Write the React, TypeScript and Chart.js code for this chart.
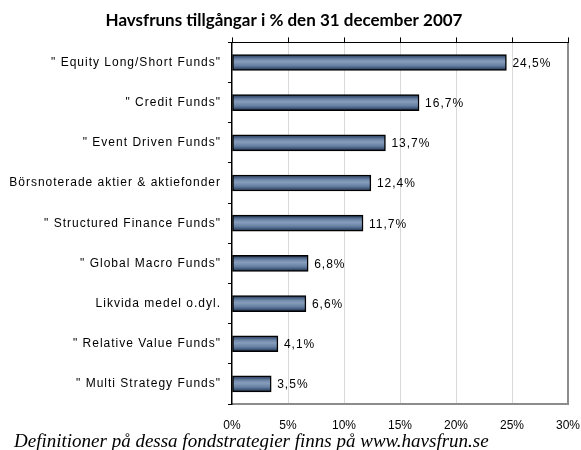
import React, { useEffect, useRef } from "react";
import { Chart, registerables } from "chart.js";

Chart.register(...registerables);

const categories = [
  '" Equity Long/Short Funds"',
  '" Credit Funds"',
  '" Event Driven Funds"',
  "Börsnoterade aktier & aktiefonder",
  '" Structured Finance Funds"',
  '" Global Macro Funds"',
  "Likvida medel o.dyl.",
  '" Relative Value Funds"',
  '" Multi Strategy Funds"',
];
const values = [24.5, 16.7, 13.7, 12.4, 11.7, 6.8, 6.6, 4.1, 3.5];
const xMin = 0;
const xMax = 30;
const xStep = 5;
const titleText = "Havsfruns tillgångar i % den 31 december 2007";
const footnoteText = "Definitioner på dessa fondstrategier finns på www.havsfrun.se";

const fmt = (v: number) => v.toFixed(1).replace(".", ",") + "%";

export default function App() {
  const ref = useRef<HTMLCanvasElement | null>(null);
  useEffect(() => {
    document.body.style.margin = "0";
    const canvas = ref.current!;
    const labelPlugin = {
      id: "valueLabels",
      afterDatasetsDraw(chart: any) {
        const ctx = chart.ctx;
        const meta = chart.getDatasetMeta(0);
        ctx.save();
        ctx.font = "12px 'Liberation Sans', Arial, sans-serif";
        (ctx as any).letterSpacing = "1px";
        ctx.fillStyle = "#000";
        ctx.textBaseline = "middle";
        ctx.textAlign = "left";
        meta.data.forEach((el: any, i: number) => {
          ctx.fillText(fmt(values[i]), el.x + 6, el.y + 1);
        });
        ctx.restore();
      },
    };
    const footPlugin = {
      id: "footnote",
      afterDraw(chart: any) {
        const ctx = chart.ctx;
        ctx.save();
        ctx.font = "italic 19px 'Liberation Serif', 'Times New Roman', serif";
        ctx.fillStyle = "#000";
        ctx.textBaseline = "alphabetic";
        ctx.textAlign = "left";
        ctx.fillText(footnoteText, 14, 447);
        ctx.restore();
      },
    };
    const chart = new Chart(canvas, {
      type: "bar",
      data: {
        labels: categories,
        datasets: [
          {
            data: values,
            barThickness: 16,
            borderColor: "#000",
            borderWidth: 1.5,
            borderSkipped: false,
            backgroundColor: (c: any) => {
              const chartObj = c.chart;
              const ys = chartObj.scales && chartObj.scales.y;
              if (!ys || c.dataIndex === undefined) return "#6f88a8";
              const cy = ys.getPixelForValue(c.dataIndex);
              if (!isFinite(cy)) return "#6f88a8";
              const g = chartObj.ctx.createLinearGradient(0, cy - 8, 0, cy + 8);
              g.addColorStop(0, "#1f3456");
              g.addColorStop(0.3, "#7089ab");
              g.addColorStop(0.45, "#879dbb");
              g.addColorStop(0.7, "#6580a3");
              g.addColorStop(1, "#1c2e4e");
              return g;
            },
          },
        ],
      },
      options: {
        indexAxis: "y",
        responsive: false,
        animation: false,
        layout: { padding: { left: 0, right: 13, top: 0, bottom: 0 } },
        plugins: {
          legend: { display: false },
          tooltip: { enabled: false },
          title: {
            display: true,
            text: titleText,
            color: "#000",
            font: { family: "Lato, 'Open Sans', sans-serif", size: 17, weight: "bold" },
            padding: { top: 10, bottom: 7 },
          },
        },
        scales: {
          x: {
            type: "linear",
            position: "bottom",
            min: xMin,
            max: xMax,
            afterFit: (s: any) => {
              s.height = 46;
              s.paddingLeft = 0;
              s.paddingRight = 0;
            },
            ticks: {
              stepSize: xStep,
              callback: (v: any) => v + "%",
              color: "#000",
              font: { family: "'Liberation Sans', Arial, sans-serif", size: 12 },
              padding: 14,
              maxRotation: 0,
            },
            grid: {
              drawTicks: false,
              color: (c: any) =>
                c.tick && c.tick.value === xMax ? "#8c8c8c" : c.tick && c.tick.value === xMin ? "rgba(0,0,0,0)" : "#d9d9d9",
              lineWidth: (c: any) => (c.tick && c.tick.value === xMax ? 2 : 1),
            },
            border: { color: "#8c8c8c", width: 2 },
          },
          x2: {
            type: "linear",
            position: "top",
            min: xMin,
            max: xMax,
            afterFit: (s: any) => {
              s.height = 5;
              s.paddingLeft = 0;
              s.paddingRight = 0;
            },
            ticks: { display: false, stepSize: xStep },
            grid: { drawOnChartArea: false, drawTicks: true, tickLength: 5, color: "#000", lineWidth: 1 },
            border: { color: "#000", width: 1 },
          },
          y: {
            type: "category",
            afterFit: (s: any) => {
              s.width = 232;
              if (!s._lsPatched) {
                const orig = s.drawLabels;
                s.drawLabels = function (area: any) {
                  const ctx = this.ctx;
                  ctx.save();
                  ctx.letterSpacing = "1px";
                  orig.call(this, area);
                  ctx.restore();
                };
                s._lsPatched = true;
              }
            },
            ticks: {
              color: "#000",
              font: { family: "'Liberation Sans', Arial, sans-serif", size: 12 },
              padding: 7,
            },
            grid: { drawOnChartArea: false, offset: true, tickLength: 4, color: "#000", lineWidth: 1 },
            border: { color: "#000", width: 1.5 },
          },
        },
      },
      plugins: [labelPlugin, footPlugin],
    } as any);
    return () => chart.destroy();
  }, []);
  return (
    <div style={{ position: "absolute", left: 0, top: 0, width: 581, height: 450 }}>
      <canvas ref={ref} width={581} height={450} style={{ width: 581, height: 450, display: "block" }} />
    </div>
  );
}
